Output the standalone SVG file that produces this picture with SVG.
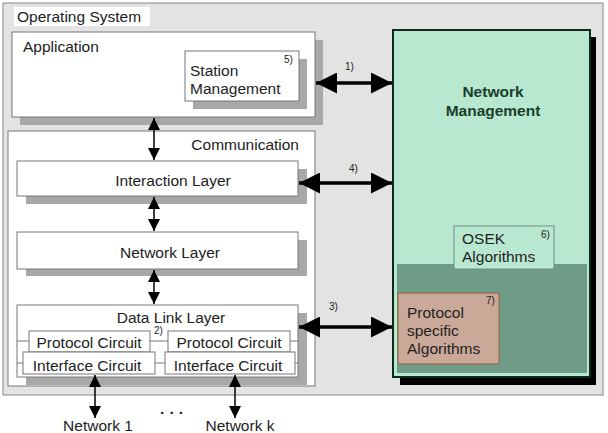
<svg xmlns="http://www.w3.org/2000/svg" width="608" height="433" viewBox="0 0 608 433">
<defs>
<style>
text{font-family:"Liberation Sans",Arial,sans-serif;fill:#222;font-size:15.5px}
.sm{font-size:10px}
.box{fill:#fff;stroke:#777;stroke-width:1}
.sh{fill:#a8a8a8}
.ln{stroke:#777;stroke-width:1;fill:none}
.va{stroke:#111;stroke-width:1.6;fill:none}
.ha{stroke:#000;stroke-width:3.5;fill:none}
.nm{font-weight:bold;fill:#173f2c;font-size:15.5px}
</style>
<marker id="ah" viewBox="0 0 12 12" refX="12" refY="6" markerWidth="12" markerHeight="13" markerUnits="userSpaceOnUse" orient="auto-start-reverse"><path d="M0,0L12,6L0,12z" fill="#000"/></marker>
<marker id="bh" viewBox="0 0 20 20" refX="20" refY="10" markerWidth="6" markerHeight="6" orient="auto-start-reverse"><path d="M0,0L20,10L0,20z" fill="#000"/></marker>
</defs>
<rect width="608" height="433" fill="#fff"/>
<g id="os">
<rect x="3" y="3" width="600" height="392" fill="#e3e3e3" stroke="#888"/>
<rect x="14" y="7" width="136" height="19" fill="#fff"/>
<text x="17" y="22">Operating System</text>
</g>
<g id="application">
<rect class="sh" x="20" y="40" width="303" height="85"/>
<rect class="box" x="12" y="32" width="303" height="85"/>
<text x="23" y="51.5">Application</text>
</g>
<g id="station-management">
<rect class="sh" x="193" y="59" width="114" height="50"/>
<rect class="box" x="185" y="51" width="114" height="50"/>
<text class="sm" x="284" y="63">5)</text>
<text x="190" y="75.5">Station</text>
<text x="190" y="93.5">Management</text>
</g>
<g id="communication">
<rect class="box" x="8" y="131" width="307" height="255"/>
<text x="299" y="149.5" text-anchor="end">Communication</text>
</g>
<g id="interaction-layer">
<rect class="sh" x="26" y="169" width="281" height="35"/>
<rect class="box" x="17" y="161" width="281" height="35"/>
<text x="173" y="185.5" text-anchor="middle">Interaction Layer</text>
</g>
<g id="network-layer">
<rect class="sh" x="26" y="240" width="281" height="36"/>
<rect class="box" x="17" y="232" width="281" height="37"/>
<text x="170" y="257.5" text-anchor="middle">Network Layer</text>
</g>
<g id="data-link-layer">
<rect class="sh" x="26" y="313" width="281" height="72"/>
<rect class="box" x="17" y="305" width="281" height="72"/>
<text x="171" y="322.5" text-anchor="middle">Data Link Layer</text>
<path class="ln" d="M17,341H29M150,341H168M290,341H298M17,363H23M155,363H165M295,363H298"/>
<text class="sm" x="154" y="334">2)</text>
</g>
<g id="protocol-circuit-1">
<rect class="box" x="29" y="331" width="121" height="21"/>
<text x="89" y="348" text-anchor="middle">Protocol Circuit</text>
</g>
<g id="interface-circuit-1">
<rect class="box" x="23" y="352" width="132" height="22"/>
<text x="87" y="370.5" text-anchor="middle">Interface Circuit</text>
</g>
<g id="protocol-circuit-2">
<rect class="box" x="168" y="331" width="122" height="21"/>
<text x="229" y="348" text-anchor="middle">Protocol Circuit</text>
</g>
<g id="interface-circuit-2">
<rect class="box" x="165" y="352" width="130" height="22"/>
<text x="228" y="370.5" text-anchor="middle">Interface Circuit</text>
</g>
<g id="network-management">
<rect x="400" y="37" width="196" height="348" fill="#000"/>
<rect x="393" y="30" width="197" height="347" fill="#b9e8d1" stroke="#0d2a1a" stroke-width="2"/>
<rect x="397" y="264" width="190" height="109" fill="#6f9c86"/>
<text class="nm" x="493" y="96.5" text-anchor="middle">Network</text>
<text class="nm" x="493" y="115.5" text-anchor="middle">Management</text>
</g>
<g id="osek-algorithms">
<rect x="454" y="226" width="100" height="43" fill="#b9e8d1" stroke="#6f8f80"/>
<text class="sm" x="541" y="238">6)</text>
<text x="462" y="243.5">OSEK</text>
<text x="462" y="261.5">Algorithms</text>
</g>
<g id="protocol-specific-algorithms">
<rect x="398" y="293" width="101" height="71" fill="#cba998" stroke="#9a5a42"/>
<text class="sm" x="486" y="304">7)</text>
<text x="407" y="317.5" fill="#3a2a22">Protocol</text>
<text x="407" y="335.5" fill="#3a2a22">specific</text>
<text x="407" y="353.5" fill="#3a2a22">Algorithms</text>
</g>
<g id="connectors">
<path class="va" d="M154,118V160" marker-start="url(#ah)" marker-end="url(#ah)"/>
<path class="va" d="M154,197V231" marker-start="url(#ah)" marker-end="url(#ah)"/>
<path class="va" d="M154,270V304" marker-start="url(#ah)" marker-end="url(#ah)"/>
<path class="va" d="M95,375V418" marker-start="url(#ah)" marker-end="url(#ah)"/>
<path class="va" d="M235,375V418" marker-start="url(#ah)" marker-end="url(#ah)"/>
<path class="ha" d="M316,83H392" marker-start="url(#bh)" marker-end="url(#bh)"/>
<path class="ha" d="M299,183H392" marker-start="url(#bh)" marker-end="url(#bh)"/>
<path class="ha" d="M299,327H392" marker-start="url(#bh)" marker-end="url(#bh)"/>
<text class="sm" x="345" y="70">1)</text>
<text class="sm" x="349" y="172">4)</text>
<text class="sm" x="329" y="310">3)</text>
</g>
<g id="networks">
<text x="98" y="430.5" text-anchor="middle">Network 1</text>
<text x="240" y="430.5" text-anchor="middle">Network k</text>
<text x="172" y="418" text-anchor="middle" font-weight="bold">· · ·</text>
</g>
</svg>
